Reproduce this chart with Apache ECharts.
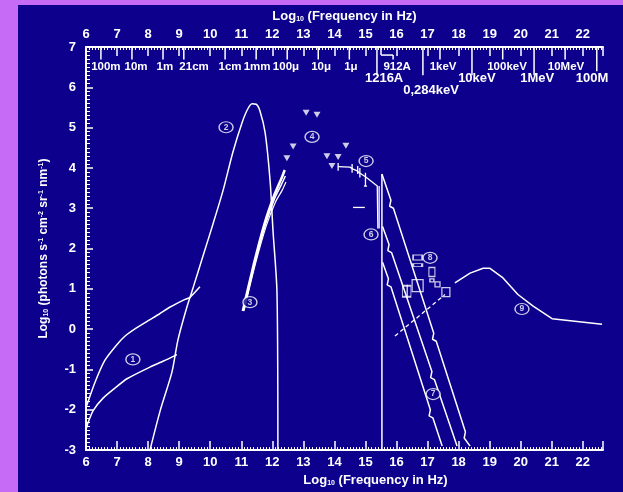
<!DOCTYPE html>
<html><head><meta charset="utf-8">
<script src="https://cdn.jsdelivr.net/npm/echarts@6/dist/echarts.min.js"></script>
<style>
html,body{margin:0;padding:0;width:623px;height:492px;background:#c66bf6;overflow:hidden;}
#c{position:absolute;left:18px;top:5px;width:605px;height:487px;background:#0d008c;}
</style></head><body><div id="c"></div>
<script>
// ---- data (log10 frequency, log10 photons) ----
const curve1Upper = [[6.02,-1.9],[6.3,-1.3],[6.61,-0.77],[7.0,-0.38],[7.26,-0.17],[7.6,0.02],[8.0,0.21],[8.35,0.37],[8.71,0.55],[9.19,0.74],[9.35,0.79],[9.67,1.05]];
const curve1Lower = [[6.02,-2.45],[6.06,-2.33],[6.23,-2.02],[6.55,-1.71],[7.0,-1.42],[7.32,-1.23],[8.06,-0.94],[8.5,-0.79],[8.93,-0.63]];
const curve2 = [[8.06,-3],[8.39,-2.02],[8.77,-1.06],[8.96,-0.27],[9.25,0.55],[9.45,1.03],[9.77,1.82],[10.09,2.61],[10.41,3.43],[10.73,4.39],[11.02,5.11],[11.2,5.45],[11.35,5.59],[11.48,5.58],[11.6,5.42],[11.77,4.87],[11.93,3.67],[12.02,2.47],[12.15,0.93],[12.18,-3]];
const curve3a = [[11.05,0.45],[11.4,1.6],[11.75,2.62],[12.05,3.3],[12.3,3.75],[12.4,3.95]];
const curve3b = [[11.08,0.45],[11.43,1.6],[11.78,2.6],[12.08,3.25],[12.3,3.6],[12.42,3.8]];
const curve3c = [[11.1,0.5],[11.45,1.6],[11.8,2.55],[12.1,3.15],[12.32,3.45],[12.44,3.65]];
const curve4 = [[13.09,5.37],[13.44,5.32],[12.67,4.53],[12.47,4.24],[13.76,4.29],[14.12,4.27],[14.37,4.55],[13.92,4.05]];
const curve5 = [[14.12,4.03],[14.5,4.02],[14.6,3.97],[14.7,3.94],[14.8,3.88],[14.9,3.83],[15.0,3.78],[15.38,3.55],[15.4,2.5]];
const curve6 = [[15.53,-3],[15.53,3.85]];
const curve7Outer = [[15.53,3.85],[15.82,3.2],[15.78,3.05],[15.9,3.0],[17.2,-0.1],[17.16,-0.25],[17.28,-0.3],[18.22,-2.55],[18.18,-2.7],[18.37,-2.9]];
const curve7Middle = [[15.55,2.55],[15.76,2.1],[15.72,1.95],[15.84,1.9],[17.14,-1.05],[17.1,-1.2],[17.22,-1.25],[17.95,-2.9]];
const curve7Inner = [[15.55,1.66],[15.74,1.25],[15.7,1.1],[15.82,1.05],[17.09,-2.0],[17.05,-2.15],[17.17,-2.2],[17.47,-2.9]];
const curve8Boxes = [[16.68,1.78],[16.68,1.59],[17.14,1.42],[16.27,0.94],[16.4,0.94],[16.68,1.08],[17.14,1.21],[17.32,1.11],[17.59,0.92]];
const curve8Dashed = [[15.95,-0.17],[17.56,0.86]];
const curve9 = [[17.88,1.15],[18.37,1.39],[18.79,1.51],[19.01,1.51],[19.43,1.27],[19.91,0.86],[20.4,0.57],[21.01,0.26],[22.62,0.12]];
// segments [x1,y1,x2,y2]
const errorBars = [[14.12,4.12,14.12,3.93],[14.57,4.1,14.57,3.88],[14.75,4.05,14.75,3.85],[14.82,4.0,14.82,3.76],[15.0,3.88,15.0,3.55],[14.95,3.55,15.05,3.55],[15.44,3.55,15.44,2.5],[14.6,3.02,14.98,3.02]];
// circled curve numbers
const curveLabels = [['1',7.51,-0.75],['2',10.51,5.01],['3',11.28,0.67],['4',13.28,4.77],['5',15.02,4.17],['6',15.18,2.35],['7',17.18,-1.61],['8',17.08,1.77],['9',20.04,0.5]];
// wavelength / energy scale under the top axis
const scaleLabels = ['100m','10m','1m','21cm','1cm','1mm','100\u03bc','10\u03bc','1\u03bc','912A','1keV','100keV','10MeV','1216A','10keV','1MeV','100M','0,284keV'];
const scaleLabelX = [6.64,7.61,8.54,9.48,10.64,11.51,12.44,13.57,14.53,16.02,17.5,19.56,21.46,15.6,18.59,20.53,22.3,17.11];
const scaleLabelY = [6.52,6.52,6.52,6.52,6.52,6.52,6.52,6.52,6.52,6.52,6.52,6.52,6.52,6.23,6.23,6.23,6.23,5.92];
const scaleTicks = [[6.48,7,6.48,6.69],[7.48,7,7.48,6.69],[8.48,7,8.48,6.69],[9.15,7,9.15,6.69],[10.48,7,10.48,6.69],[11.48,7,11.48,6.69],[12.48,7,12.48,6.69],[13.48,7,13.48,6.69],[14.48,7,14.48,6.69],
  [15.37,7,15.37,6.3],[15.5,7,15.5,6.8],[15.5,6.8,15.89,6.8],[15.89,6.8,15.89,6.69],[16.85,7,16.85,6.3],[17.4,7,17.4,6.69],[18.43,7,18.43,6.3],[19.42,7,19.42,6.69],[20.43,7,20.43,6.3],[21.43,7,21.43,6.69],[22.45,7,22.45,6.4]];
const boxSizes = [[9,5],[9,3],[6,9],[5,11],[4,11],[11,12],[4,3],[5,5],[8,9]];
const scaleLabelFont = [11.5,11.5,11.5,11.5,11.5,11.5,11.5,11.5,11.5,11.5,11.5,11.5,11.5,13,13,13,13,13];

const W = '#ffffff';
const FONT = '"Liberation Sans", Arial, sans-serif';
function lineSeries(data, extra){
  return Object.assign({type:'line', data, showSymbol:false, symbol:'none', lineStyle:{color:W, width:1.5}, z:3, silent:true}, extra||{});
}
function segSeries(data, width){
  return {type:'custom', data, silent:true, z:4, renderItem:(p, api)=>{
    const a = api.coord([api.value(0), api.value(1)]);
    const b = api.coord([api.value(2), api.value(3)]);
    return {type:'line', shape:{x1:a[0],y1:a[1],x2:b[0],y2:b[1]}, style:{stroke:W, lineWidth:width}};
  }};
}
const richName = {
  a:{color:W, fontSize:13, fontWeight:'bold', fontFamily:FONT},
  s:{color:W, fontSize:7, fontWeight:'bold', fontFamily:FONT, verticalAlign:'bottom', padding:[5,0,0,0]}
};
const chart = echarts.init(document.getElementById('c'));
const axisCommon = {
  type:'value', min:6, max:22.65, interval:1,
  axisLine:{show:true, onZero:false, lineStyle:{color:W, width:2}},
  axisTick:{show:true, inside:true, length:9, lineStyle:{color:W, width:1.5}},
  minorTick:{show:true, splitNumber:10, length:3, lineStyle:{color:W, width:1}},
  splitLine:{show:false},
  axisLabel:{color:W, fontSize:13, fontWeight:'bold', fontFamily:FONT, margin:6, showMaxLabel:false}
};
chart.setOption({
  animation:false,
  backgroundColor:'transparent',
  grid:{left:68, right:20, top:39, bottom:31},
  xAxis:[
    Object.assign({}, axisCommon, {position:'bottom', nameLocation:'middle', nameGap:15,
      name:'{a|Log}{s|10}{a| (Frequency in Hz)}', nameTextStyle:{rich:richName, padding:[0,0,0,62]}}),
    Object.assign({}, axisCommon, {position:'top', nameLocation:'middle', nameGap:24,
      name:'{a|Log}{s|10}{a| (Frequency in Hz)}', nameTextStyle:{rich:richName}})
  ],
  yAxis:{type:'value', min:-3, max:7, interval:1,
    axisLine:{show:true, onZero:false, lineStyle:{color:W, width:2}},
    axisTick:{show:true, inside:true, length:7, lineStyle:{color:W, width:1.5}},
    minorTick:{show:true, splitNumber:10, length:4, lineStyle:{color:W, width:1}},
    splitLine:{show:false},
    axisLabel:{color:W, fontSize:13, fontWeight:'bold', fontFamily:FONT, margin:10},
    nameLocation:'middle', nameGap:36, nameRotate:90,
    name:'{q|Log}{t|10}{q| (photons s}{u|-1}{q| cm}{u|-2}{q| sr}{u|-1}{q| nm}{u|-1}{q|)}',
    nameTextStyle:{rich:{
      q:{color:W, fontSize:12, fontWeight:'bold', fontFamily:FONT},
      t:{color:W, fontSize:7, fontWeight:'bold', fontFamily:FONT, verticalAlign:'bottom', padding:[5,0,0,0]},
      u:{color:W, fontSize:7, fontWeight:'bold', fontFamily:FONT, verticalAlign:'top', padding:[0,0,5,0]}
    }}
  },
  series:[
    lineSeries(curve1Upper, {smooth:0.2}),
    lineSeries(curve1Lower, {smooth:0.2}),
    lineSeries(curve2, {smooth:0.25}),
    lineSeries(curve3a, {smooth:0.2, lineStyle:{color:W, width:2.5}}),
    lineSeries(curve3b, {smooth:0.2, lineStyle:{color:W, width:1.5}}),
    lineSeries(curve3c, {smooth:0.2, lineStyle:{color:W, width:1.2}}),
    {type:'scatter', data:curve4, symbol:'triangle', symbolRotate:180, symbolSize:[7,6], itemStyle:{color:W}, silent:true, z:4},
    lineSeries(curve5, {lineStyle:{color:W, width:1.3}}),
    lineSeries(curve6),
    lineSeries(curve7Outer),
    lineSeries(curve7Middle),
    lineSeries(curve7Inner),
    lineSeries(curve8Dashed, {lineStyle:{color:W, width:1.3, type:[4,3]}}),
    {type:'scatter', data:curve8Boxes.map((d,i)=>({value:d, symbolSize:boxSizes[i]})), symbol:'rect',
      itemStyle:{color:'rgba(0,0,0,0)', borderColor:W, borderWidth:1.3}, silent:true, z:4},
    lineSeries(curve9),
    segSeries(errorBars, 1.3),
    segSeries(scaleTicks, 1.5),
    {type:'scatter', data:scaleLabels.map((t,i)=>({value:[scaleLabelX[i], scaleLabelY[i]], name:t,
        label:{show:true, position:'inside', formatter:t, color:W, opacity:1, fontSize:scaleLabelFont[i], fontWeight:'bold', fontFamily:FONT}})),
      symbol:'circle', symbolSize:1, itemStyle:{color:'rgba(0,0,0,0)'}, silent:true, z:5,
      label:{show:true, position:'inside', color:W, fontSize:11.5, fontWeight:'bold', fontFamily:FONT}},
    {type:'scatter', data:curveLabels.map(d=>({value:[d[1], d[2]], name:d[0]})), symbol:'circle', symbolSize:[14,11], silent:true, z:6,
      itemStyle:{color:'#0d008c', borderColor:W, borderWidth:1.3},
      label:{show:true, position:'inside', formatter:p=>p.name, color:W, fontSize:8.5, fontWeight:'bold', fontFamily:FONT}}
  ]
});
</script></body></html>
